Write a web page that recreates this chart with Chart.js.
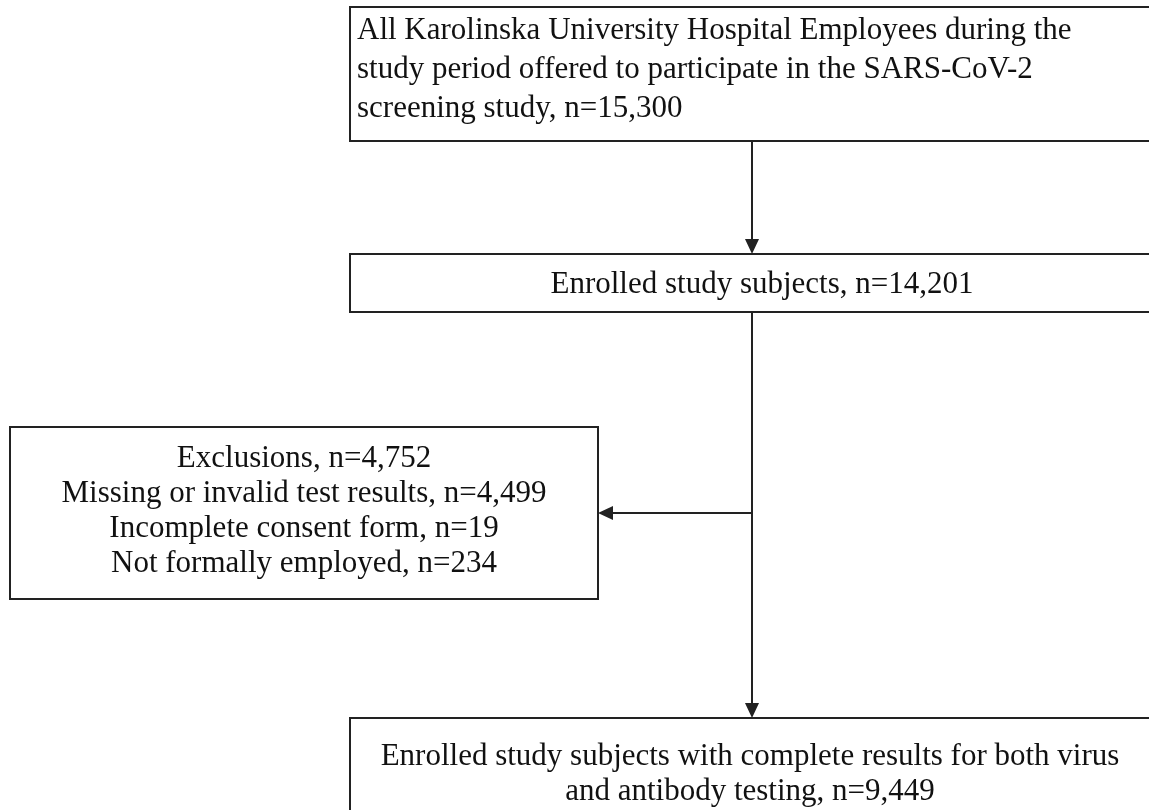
<!DOCTYPE html>
<html>
<head>
<meta charset="utf-8">
<script src="https://cdn.jsdelivr.net/npm/chart.js@4.4.1/dist/chart.umd.min.js"></script>
<style>
html,body{margin:0;padding:0;background:#fff;}
#wrap{width:1149px;height:810px;position:relative;}
canvas{display:block;}
</style>
</head>
<body>
<div id="wrap"><canvas id="c" width="1149" height="810"></canvas></div>
<script>
// ---- data ----
const stepNames = [
  ['All Karolinska University Hospital Employees during the', 'study period offered to participate in the SARS-CoV-2', 'screening study, n='],
  ['Enrolled study subjects, n='],
  ['Exclusions, n='],
  ['Enrolled study subjects with complete results for both virus', 'and antibody testing, n=']
];
const stepCounts = [15300, 14201, 4752, 9449];
const exclusionReasons = ['Missing or invalid test results', 'Incomplete consent form', 'Not formally employed'];
const exclusionCounts = [4499, 19, 234];

// ---- layout (data units of the hidden x/y scales) ----
const boxes = [
  {x0: 350, x1: 1180, y0: 7,   y1: 141, align: 'left',   tx: 357, base: 39, step: 39},
  {x0: 350, x1: 1180, y0: 254, y1: 312, align: 'center', tx: 762, base: 293, step: 39},
  {x0: 10,  x1: 598,  y0: 427, y1: 599, align: 'center', tx: 304, base: 467, step: 35},
  {x0: 350, x1: 1150, y0: 718, y1: 850, align: 'center', tx: 750, base: 765, step: 35}
];
const arrows = [
  {pts: [[752, 141], [752, 254]]},
  {pts: [[752, 312], [752, 718]]},
  {pts: [[752, 513], [598, 513]]}
];

const fmt = n => n.toLocaleString('en-US');
function boxLines(i) {
  const lines = stepNames[i].slice();
  lines[lines.length - 1] = lines[lines.length - 1] + fmt(stepCounts[i]);
  if (i === 2) {
    exclusionReasons.forEach((r, k) => lines.push(r + ', n=' + fmt(exclusionCounts[k])));
  }
  return lines;
}

const flowPlugin = {
  id: 'flow',
  afterDraw(chart) {
    const ctx = chart.ctx, xs = chart.scales.x, ys = chart.scales.y;
    const X = v => xs.getPixelForValue(v), Y = v => ys.getPixelForValue(v);
    ctx.save();
    ctx.strokeStyle = '#222';
    ctx.fillStyle = '#222';
    ctx.lineWidth = 2;
    boxes.forEach((b, i) => {
      ctx.strokeRect(X(b.x0), Y(b.y0), X(b.x1) - X(b.x0), Y(b.y1) - Y(b.y0));
      ctx.font = "31px 'Liberation Serif', 'Times New Roman', serif";
      ctx.textAlign = b.align;
      ctx.textBaseline = 'alphabetic';
      ctx.fillStyle = '#111';
      boxLines(i).forEach((t, k) => ctx.fillText(t, X(b.tx), Y(b.base + k * b.step)));
      ctx.fillStyle = '#222';
    });
    arrows.forEach(a => {
      const [p0, p1] = a.pts;
      const x0 = X(p0[0]), y0 = Y(p0[1]), x1 = X(p1[0]), y1 = Y(p1[1]);
      const ang = Math.atan2(y1 - y0, x1 - x0);
      const L = 15, W = 7;
      const bx = x1 - L * Math.cos(ang), by = y1 - L * Math.sin(ang);
      ctx.beginPath();
      ctx.moveTo(x0, y0);
      ctx.lineTo(bx, by);
      ctx.stroke();
      ctx.beginPath();
      ctx.moveTo(x1, y1);
      ctx.lineTo(bx + W * Math.sin(ang), by - W * Math.cos(ang));
      ctx.lineTo(bx - W * Math.sin(ang), by + W * Math.cos(ang));
      ctx.closePath();
      ctx.fill();
    });
    ctx.restore();
  }
};

new Chart(document.getElementById('c'), {
  type: 'scatter',
  data: {datasets: [{data: [], pointRadius: 0}]},
  options: {
    responsive: false,
    animation: false,
    devicePixelRatio: 1,
    layout: {padding: 0},
    plugins: {legend: {display: false}, tooltip: {enabled: false}},
    scales: {
      x: {type: 'linear', min: 0, max: 1149, display: false},
      y: {type: 'linear', min: 0, max: 810, reverse: true, display: false}
    }
  },
  plugins: [flowPlugin]
});
</script>
</body>
</html>
